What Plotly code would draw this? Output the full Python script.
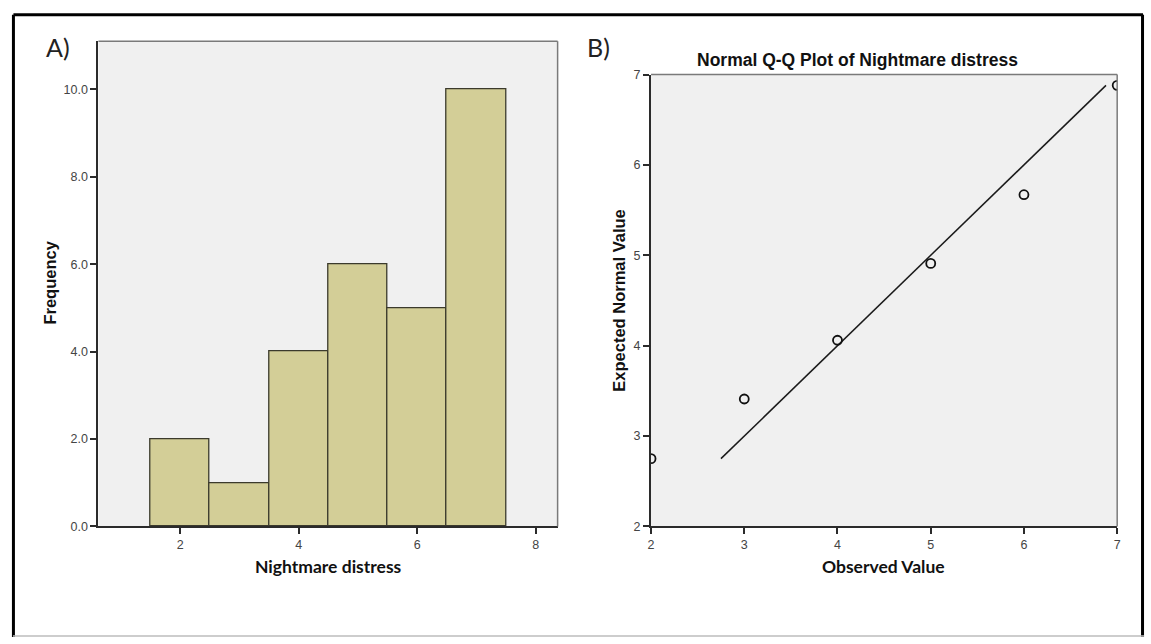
import plotly.graph_objects as go

# ---- Data ----
bin_centers = [2, 3, 4, 5, 6, 7]
frequencies = [2, 1, 4, 6, 5, 10]

observed_values = [2, 3, 4, 5, 6, 7]
expected_normal = [2.75, 3.41, 4.06, 4.91, 5.67, 6.88]

hist_yticks = [0, 2, 4, 6, 8, 10]
hist_xticks = [2, 4, 6, 8]
qq_ticks = [2, 3, 4, 5, 6, 7]

W, H = 1151, 644

def px_x(p):
    return p / W

def px_y(p):
    return 1 - p / H

fig = go.Figure()

fig.add_trace(go.Bar(
    x=bin_centers, y=frequencies, width=1,
    marker=dict(color="#d3ce97", line=dict(color="#3b3a2c", width=1.3)),
    xaxis="x", yaxis="y", showlegend=False, hoverinfo="x+y",
))

line_ends = [min(expected_normal), max(expected_normal)]
fig.add_trace(go.Scatter(
    x=line_ends, y=line_ends, mode="lines",
    line=dict(color="#1a1a1a", width=1.5),
    xaxis="x2", yaxis="y2", showlegend=False,
))

fig.add_trace(go.Scatter(
    x=observed_values, y=expected_normal, mode="markers",
    marker=dict(symbol="circle-open", size=9, color="#111111", line=dict(width=1.8)),
    xaxis="x2", yaxis="y2", showlegend=False, cliponaxis=True,
))

tickfont = dict(family="Liberation Sans, Arial", size=12.5, color="#444444")

axis_common = dict(
    showgrid=False, zeroline=False, showline=True, linecolor="#2b2b2b", linewidth=2,
    ticks="outside", ticklen=6, tickwidth=1.5, tickcolor="#2b2b2b",
    tickfont=tickfont, mirror=False, fixedrange=True,
)

fig.update_layout(
    width=W, height=H,
    margin=dict(l=0, r=0, t=0, b=0),
    paper_bgcolor="white",
    plot_bgcolor="#f0f0f0",
    xaxis=dict(axis_common, domain=[px_x(96), px_x(558)], range=[0.62, 8.37],
               tickvals=hist_xticks, anchor="y"),
    yaxis=dict(axis_common, domain=[px_y(531), px_y(35)], range=[0, 11.1],
               tickvals=hist_yticks, tickformat=".1f", anchor="x"),
    xaxis2=dict(axis_common, domain=[px_x(652), px_x(1121)], range=[2, 7],
                tickvals=qq_ticks, anchor="y2"),
    yaxis2=dict(axis_common, domain=[px_y(531), px_y(69)], range=[2, 7],
                tickvals=qq_ticks, anchor="x2"),
    bargap=0,
)

shapes = []
for (x0, x1, y0, y1) in [(96, 558, 35, 531), (652, 1121, 69, 531)]:
    shapes.append(dict(type="line", xref="paper", yref="paper",
                       x0=px_x(x0), x1=px_x(x1), y0=px_y(y0), y1=px_y(y0),
                       line=dict(color="#7a7a7a", width=1.5)))
    shapes.append(dict(type="line", xref="paper", yref="paper",
                       x0=px_x(x1), x1=px_x(x1), y0=px_y(y0), y1=px_y(y1),
                       line=dict(color="#7a7a7a", width=1.5)))
shapes.append(dict(type="line", xref="paper", yref="paper",
                   x0=px_x(10.5), x1=px_x(1147), y0=px_y(8), y1=px_y(8),
                   line=dict(color="black", width=3)))
shapes.append(dict(type="line", xref="paper", yref="paper",
                   x0=px_x(10.5), x1=px_x(10.5), y0=px_y(8), y1=px_y(644),
                   line=dict(color="black", width=3)))
shapes.append(dict(type="line", xref="paper", yref="paper",
                   x0=px_x(1146.5), x1=px_x(1146.5), y0=px_y(8), y1=px_y(644),
                   line=dict(color="black", width=3)))
shapes.append(dict(type="line", xref="paper", yref="paper",
                   x0=px_x(10), x1=px_x(1148), y0=px_y(643), y1=px_y(643),
                   line=dict(color="#bdbdbd", width=1.5)))
fig.update_layout(shapes=shapes)

bold_arial = dict(family="Liberation Sans, Arial", size=16.5, color="#111111")
calibri_bold = dict(family="Lato, Carlito, Calibri", size=17.5, color="#111111")
label_font = dict(family="Lato, Carlito, Calibri", size=25, color="#222222")

annotations = [
    dict(text="A)", x=px_x(41), y=px_y(41), xanchor="left", yanchor="middle",
         font=label_font),
    dict(text="B)", x=px_x(586), y=px_y(41), xanchor="left", yanchor="middle",
         font=label_font),
    dict(text="<b>Normal Q-Q Plot of Nightmare distress</b>", x=px_x(860), y=px_y(54),
         xanchor="center", yanchor="middle", font=dict(bold_arial, size=17.5)),
    dict(text="<b>Nightmare distress</b>", x=px_x(327), y=px_y(572),
         xanchor="center", yanchor="middle", font=calibri_bold),
    dict(text="<b>Observed Value</b>", x=px_x(886), y=px_y(572),
         xanchor="center", yanchor="middle", font=calibri_bold),
    dict(text="<b>Frequency</b>", x=px_x(47), y=px_y(282), textangle=-90,
         xanchor="center", yanchor="middle", font=bold_arial),
    dict(text="<b>Expected Normal Value</b>", x=px_x(620), y=px_y(300), textangle=-90,
         xanchor="center", yanchor="middle", font=bold_arial),
]
for a in annotations:
    a.update(xref="paper", yref="paper", showarrow=False)
fig.update_layout(annotations=annotations)

fig.write_html("out.html", config={"displayModeBar": False})
